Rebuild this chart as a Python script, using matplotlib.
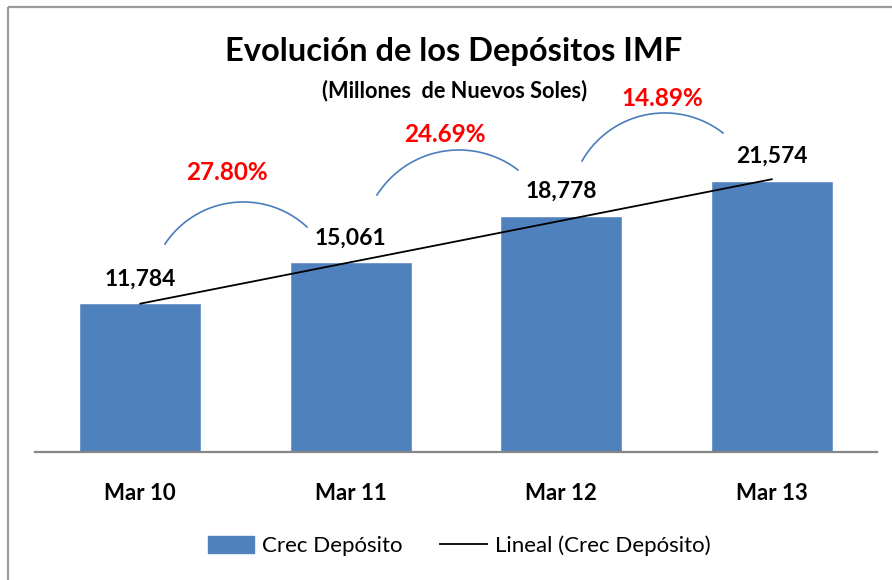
import numpy as np
import matplotlib
matplotlib.use("Agg")
import matplotlib.pyplot as plt
from matplotlib.lines import Line2D
from matplotlib.patches import Rectangle, Patch
from matplotlib.transforms import Affine2D

categories = ["Mar 10", "Mar 11", "Mar 12", "Mar 13"]
values = [11784, 15061, 18778, 21574]
value_labels = ["11,784", "15,061", "18,778", "21,574"]
growth_labels = ["27.80%", "24.69%", "14.89%"]

W, H = 892, 580
FONT = ["Lato", "DejaVu Sans"]
plt.rcParams['font.family'] = FONT

fig = plt.figure(figsize=(W / 100, H / 100), dpi=100)
fig.patch.set_facecolor("white")

# pixel transform (top-left origin)
pix = Affine2D().scale(1, -1).translate(0, H)

# outer frame
fig.add_artist(Rectangle((8, 7), W, H, transform=pix, fill=False,
                         edgecolor="#9a9a9a", linewidth=1.6))

ax_left, ax_right, ax_base, ax_top = 35, 877, 452, 76
ax = fig.add_axes([ax_left / W, (H - ax_base) / H,
                   (ax_right - ax_left) / W, (ax_base - ax_top) / H])
ax.set_facecolor("none")

x = np.arange(len(categories))
bar_color = "#4F81BD"
ax.bar(x, values, width=0.57, color=bar_color, edgecolor="#6b95c8",
       linewidth=0.6, zorder=2)

# linear trendline
coef = np.polyfit(x, values, 1)
ax.plot(x, np.polyval(coef, x), color="black", linewidth=1.3, zorder=3)

ax.set_xlim(-0.5, len(categories) - 0.5)
ax.set_ylim(0, 30000)
for s in ["top", "right", "left"]:
    ax.spines[s].set_visible(False)
ax.spines["bottom"].set_color("#868686")
ax.spines["bottom"].set_linewidth(1.6)
ax.set_yticks([])
ax.set_xticks(x)
ax.set_xticklabels(categories, fontsize=16, fontweight="bold")
ax.tick_params(axis="x", length=0, pad=22)

# value labels above bars
for xi, v, lab in zip(x, values, value_labels):
    ax.annotate(lab, (xi, v), xytext=(0, 18), textcoords="offset points",
                ha="center", va="center", fontsize=16.5, fontweight="bold",
                color="black")

# growth arcs (decorative shapes) in pixel space: start, peak, end
arcs = [((165, 244), (245, 202), (307, 227)),
        ((377, 195), (458, 150), (518, 170)),
        ((582, 161), (667, 113), (723, 133))]
label_pos = [(227, 173), (445, 134), (662, 98)]


def circle_through(p1, p2, p3):
    ax_, ay = p1; bx, by = p2; cx, cy = p3
    d = 2 * (ax_ * (by - cy) + bx * (cy - ay) + cx * (ay - by))
    ux = ((ax_**2 + ay**2) * (by - cy) + (bx**2 + by**2) * (cy - ay) + (cx**2 + cy**2) * (ay - by)) / d
    uy = ((ax_**2 + ay**2) * (cx - bx) + (bx**2 + by**2) * (ax_ - cx) + (cx**2 + cy**2) * (bx - ax_)) / d
    return ux, uy, np.hypot(ax_ - ux, ay - uy)


for (p1, p2, p3), lab, (lx, ly) in zip(arcs, growth_labels, label_pos):
    ux, uy, r = circle_through(p1, p2, p3)
    a1 = np.arctan2(p1[1] - uy, p1[0] - ux)
    a3 = np.arctan2(p3[1] - uy, p3[0] - ux)
    if a1 > 0:
        a1 -= 2 * np.pi
    if a3 > 0:
        a3 -= 2 * np.pi
    t = np.linspace(a1, a3, 80)
    fig.add_artist(Line2D(ux + r * np.cos(t), uy + r * np.sin(t),
                          transform=pix, color="#4a7ebb", linewidth=1.2))
    fig.text(lx, ly, lab, transform=pix, ha="center", va="center",
             fontsize=17.5, fontweight="bold", color="#ff0000")

# titles
fig.text(454, 52, "Evolución de los Depósitos IMF", transform=pix,
         ha="center", va="center", fontsize=23.5, fontweight="bold")
fig.text(455, 91, "(Millones  de Nuevos Soles)", transform=pix,
         ha="center", va="center", fontsize=15.7, fontweight="bold")

# legend
handles = [Patch(facecolor=bar_color, edgecolor=bar_color),
           Line2D([0], [0], color="black", linewidth=1.3)]
fig.legend(handles, ["Crec Depósito", "Lineal (Crec Depósito)"],
           loc="center", bbox_to_anchor=(459 / W, 1 - 546 / H),
           ncol=2, frameon=False, fontsize=16, handlelength=2.1,
           handleheight=0.8, columnspacing=1.7, handletextpad=0.35)

fig.savefig("out.png", dpi=100)
